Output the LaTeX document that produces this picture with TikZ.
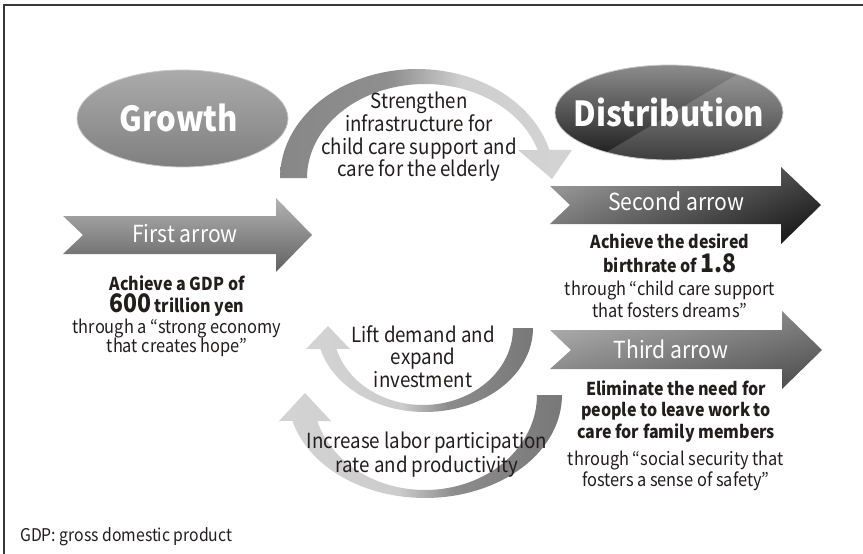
\documentclass[tikz,border=0pt]{standalone}
\usepackage{fontspec}
\setmainfont{Noto Sans CJK JP}[FakeStretch=0.9]
\definecolor{txt}{RGB}{35,30,30}
\definecolor{framec}{RGB}{60,55,55}
\pgfdeclarehorizontalshading{arcdl}{100bp}{color(0bp)=(black!47); color(25bp)=(black!47); color(44bp)=(black!44); color(56bp)=(black!19); color(75bp)=(black!17); color(100bp)=(black!17)}
\pgfdeclarehorizontalshading{arcld}{100bp}{color(0bp)=(black!17); color(25bp)=(black!17); color(46bp)=(black!20); color(56bp)=(black!45); color(75bp)=(black!53); color(100bp)=(black!53)}
\tikzset{
  body/.style={anchor=base, inner sep=0pt, text=txt, font=\fontsize{18.2}{20}\selectfont},
  bbody/.style={anchor=base, inner sep=0pt, text=txt, font=\bfseries\fontsize{17.8}{20}\selectfont},
  mid/.style={anchor=base, inner sep=0pt, text=txt, font=\fontsize{20.8}{23}\selectfont},
  arrowlbl/.style={anchor=base, inner sep=0pt, text=white, font=\fontsize{23.5}{26}\selectfont},
  title/.style={anchor=base, inner sep=0pt, text=white, font=\bfseries\fontsize{34.5}{40}\selectfont},
  foot/.style={anchor=base west, inner sep=0pt, text=txt, font=\fontsize{17.5}{20}\selectfont},
}
\newcommand{\bignum}[1]{{\fontsize{25.5}{28}\selectfont #1}}
\begin{document}
\begin{tikzpicture}[x=1pt,y=-1pt]
\useasboundingbox (0,0) rectangle (863,554);
\fill[white] (0,0) rectangle (863,554);
\draw[framec, line width=1.6pt] (4,554) -- (4,5) -- (863,5);

% ellipses
\shade[top color=black!33, bottom color=black!50, draw=black!22, line width=0.8pt] (182.5,118.5) ellipse [x radius=105.5pt, y radius=48.5pt];
\shade[top color=black!45, bottom color=black!90, draw=black!22, line width=0.8pt] (669,112.5) ellipse [x radius=114pt, y radius=47.5pt];
\begin{scope}
  \clip (669,112.5) ellipse [x radius=114pt, y radius=47.5pt];
  \fill[white, opacity=0.16] (560,180) -- (800,37) -- (800,180) -- cycle;
\end{scope}

% block arrows
\shade[top color=black!30, bottom color=black!62] (63,216) -- (276,216) -- (276,198) -- (312,235) -- (276,272) -- (276,254) -- (63,254) -- (83,235) -- cycle;
\shade[top color=black!42, bottom color=black!88, shading angle=25] (550,186) -- (781,186) -- (781,167) -- (821,205) -- (781,244) -- (781,224) -- (550,224) -- (570,205) -- cycle;
\shade[top color=black!32, bottom color=black!68, shading angle=15] (550,330) -- (782,330) -- (782,311) -- (822,350) -- (782,389) -- (782,369) -- (550,369) -- (571,350) -- cycle;

% curved arrows
\shade[shading=arcdl] plot[domain=180:14.9, samples=60] ({417+137*cos(\x)},{178-109*sin(\x)}) -- (572,150) -- (552,179) -- (518,150) -- plot[domain=17.3:180, samples=60] ({425+118*cos(\x)},{178-94*sin(\x)}) -- cycle;
\shade[shading=arcld] plot[domain=0:-165.5, samples=60] ({425+108*cos(\x)},{328-84*sin(\x)}) -- (306,349) -- (328,326) -- (350,349) -- plot[domain=-164.2:0, samples=60] ({423+90*cos(\x)},{328-77*sin(\x)}) -- cycle;
\shade[shading=arcld] plot[domain=0:-165.4, samples=60] ({425+137*cos(\x)},{395-103*sin(\x)}) -- (279,421) -- (305,393) -- (331,421) -- plot[domain=-164.1:0, samples=60] ({425+112*cos(\x)},{395-95*sin(\x)}) -- cycle;

% titles
\node[title] (growth) at (179,131) {Growth};
\node[title] (distribution) at (669,126) {Distribution};
\node[arrowlbl] (first) at (185,242) {First arrow};
\node[arrowlbl] (second) at (676,210) {Second arrow};
\node[arrowlbl] (third) at (671,358) {Third arrow};

% first block
\node[bbody] (a1) at (177,290) {Achieve a GDP of};
\node[bbody] (a2) at (177,312.5) {\bignum{600}\,trillion yen};
\node[body] (a3) at (177,333) {through a “strong economy};
\node[body] (a4) at (177,352) {that creates hope”};

% second block
\node[bbody] (b1) at (670,248) {Achieve the desired};
\node[bbody] (b2) at (670,272) {birthrate of \bignum{1.8}};
\node[body] (b3) at (670,295) {through “child care support};
\node[body] (b4) at (670,317) {that fosters dreams”};

% third block
\node[bbody] (c1) at (676,395) {Eliminate the need for};
\node[bbody] (c2) at (676,416) {people to leave work to};
\node[bbody] (c3) at (676,438) {care for family members};
\node[body] (c4) at (676,465) {through “social security that};
\node[body] (c5) at (676,486) {fosters a sense of safety”};

% middle labels
\node[mid] (s1) at (419,108.5) {Strengthen};
\node[mid] (s2) at (419,131.3) {infrastructure for};
\node[mid] (s3) at (419,154.1) {child care support and};
\node[mid] (s4) at (419,176.9) {care for the elderly};
\node[mid] (l1) at (423,342) {Lift demand and};
\node[mid] (l2) at (423,364.5) {expand};
\node[mid] (l3) at (423,387) {investment};
\node[mid] (i1) at (427,448) {Increase labor participation};
\node[mid] (i2) at (427,472) {rate and productivity};

\node[foot] (gdp) at (20,541) {GDP: gross domestic product};
\end{tikzpicture}
\end{document}
